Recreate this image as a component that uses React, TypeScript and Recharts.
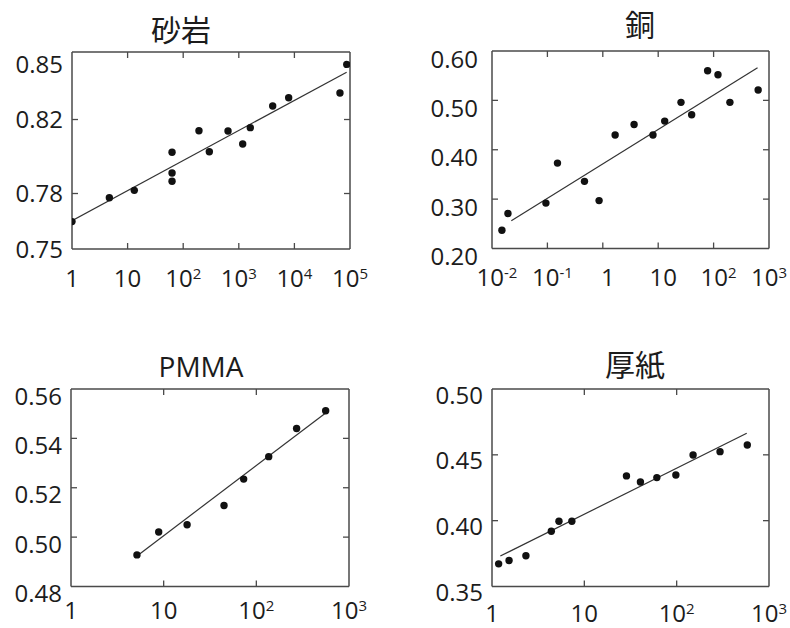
import React from "react";
import { Scatter, ScatterChart, XAxis, YAxis } from "recharts";

const FRAME = "#4a4a4a";
const INK = "#1c1c1c";
const DOT = "#111111";
const FONT = "'Open Sans', 'DejaVu Sans', sans-serif";
const CJK = "'Noto Sans CJK JP', 'Noto Sans', sans-serif";
const TICK_SIZE = 24;

// 砂岩
const sandstoneX = [1, 4.7, 13.2, 63, 63, 63, 192, 295, 640, 1175, 1610, 4070, 7890, 66000, 87500];
const sandstoneY = [0.7648, 0.7777, 0.7817, 0.8023, 0.7911, 0.7866, 0.8139, 0.8026, 0.8138, 0.8068, 0.8156, 0.8273, 0.8318, 0.8343, 0.8498];
const sandstoneFitX = [1, 87000];
const sandstoneFitY = [0.7653, 0.8456];
const sandstoneXTicks = [1, 10, 100, 1000, 10000, 100000];
const sandstoneXLabels = ["1", "10", "10^2", "10^3", "10^4", "10^5"];
const sandstoneYTicks = [0.75, 0.78, 0.82, 0.85];
const sandstoneYLabels = ["0.75", "0.78", "0.82", "0.85"];

// 銅
const copperX = [0.0151, 0.0194, 0.094, 0.152, 0.467, 0.857, 1.67, 3.67, 8.05, 13.1, 25.8, 40.2, 78, 120, 197, 637];
const copperY = [0.237, 0.271, 0.292, 0.373, 0.336, 0.297, 0.43, 0.451, 0.43, 0.458, 0.496, 0.471, 0.56, 0.552, 0.496, 0.521];
const copperFitX = [0.0223, 621];
const copperFitY = [0.256, 0.566];
const copperXTicks = [0.01, 0.1, 1, 10, 100, 1000];
const copperXLabels = ["10^-2", "10^-1", "1", "10", "10^2", "10^3"];
const copperYTicks = [0.2, 0.3, 0.4, 0.5, 0.6];
const copperYLabels = ["0.20", "0.30", "0.40", "0.50", "0.60"];

// PMMA
const pmmaX = [5.15, 8.84, 17.9, 44.8, 73, 136, 272, 560];
const pmmaY = [0.4928, 0.5021, 0.505, 0.5128, 0.5235, 0.5326, 0.544, 0.5512];
const pmmaFitX = [5.55, 560];
const pmmaFitY = [0.4933, 0.5503];
const pmmaXTicks = [1, 10, 100, 1000];
const pmmaXLabels = ["1", "10", "10^2", "10^3"];
const pmmaYTicks = [0.48, 0.5, 0.52, 0.54, 0.56];
const pmmaYLabels = ["0.48", "0.50", "0.52", "0.54", "0.56"];

// 厚紙
const cardX = [1.18, 1.53, 2.33, 4.39, 5.31, 7.33, 28.6, 40.5, 61, 98, 150.6, 295, 582];
const cardY = [0.3672, 0.3697, 0.3733, 0.392, 0.3996, 0.3996, 0.434, 0.4294, 0.4327, 0.4347, 0.4499, 0.4524, 0.4575];
const cardFitX = [1.23, 574];
const cardFitY = [0.3731, 0.4664];
const cardXTicks = [1, 10, 100, 1000];
const cardXLabels = ["1", "10", "10^2", "10^3"];
const cardYTicks = [0.35, 0.4, 0.45, 0.5];
const cardYLabels = ["0.35", "0.40", "0.45", "0.50"];

const toPoints = (xs: number[], ys: number[]) => xs.map((x, i) => ({ x, y: ys[i] }));

// "10^2" -> 10 with a raised exponent
function Power({ label }: { label: string }) {
  const [base, exp] = label.split("^");
  return (
    <>
      {base}
      {exp && (
        <tspan fontSize={15} dy={-8}>
          {exp}
        </tspan>
      )}
    </>
  );
}

const isEdge = (ticks: number[], v: number) => v === ticks[0] || v === ticks[ticks.length - 1];

type Box = { l: number; t: number; r: number; b: number };

type PanelProps = {
  title: string;
  titleFont: string;
  titleX: number;
  titleY: number;
  left: number;
  top: number;
  box: Box;
  xDomain: [number, number];
  yDomain: [number, number];
  xTicks: number[];
  xLabels: string[];
  yTicks: number[];
  yLabels: string[];
  points: { x: number; y: number }[];
  fit: { x: number; y: number }[];
  xLabelOffset: number;
  xLabelDx: number;
  yLabelDy: number;
  yLabelGap: number;
};

const W = 395;
const H = 314;

function Panel(p: PanelProps) {
  const leftW = p.box.l - p.left;
  const rightW = p.left + W - p.box.r;
  const topH = p.box.t - p.top;
  const bottomH = p.top + H - p.box.b;

  const bottomTick = (props: any) => {
    const { x, y, payload } = props;
    const i = p.xTicks.indexOf(payload.value);
    // the last label sits on the right edge of the page, keep it unshifted
    const dx = i === p.xTicks.length - 1 ? 0 : p.xLabelDx;
    return (
      <g>
        {!isEdge(p.xTicks, payload.value) && <line x1={x} x2={x} y1={y} y2={y - 6} stroke={FRAME} strokeWidth={1.3} />}
        <text
          x={x + dx}
          y={y + p.xLabelOffset}
          dy="0.36em"
          textAnchor="middle"
          fill={INK}
          fontSize={TICK_SIZE}
          fontFamily={FONT}
        >
          <Power label={p.xLabels[i] ?? ""} />
        </text>
      </g>
    );
  };

  const topTick = (props: any) => {
    const { x, y, payload } = props;
    if (isEdge(p.xTicks, payload.value)) return <g />;
    return <line x1={x} x2={x} y1={y} y2={y + 6} stroke={FRAME} strokeWidth={1.3} />;
  };

  const leftTick = (props: any) => {
    const { x, y, payload } = props;
    const i = p.yTicks.indexOf(payload.value);
    return (
      <g>
        {!isEdge(p.yTicks, payload.value) && <line x1={x} x2={x + 6} y1={y} y2={y} stroke={FRAME} strokeWidth={1.3} />}
        <text
          x={x - p.yLabelGap}
          y={y + p.yLabelDy}
          dy="0.36em"
          textAnchor="end"
          fill={INK}
          fontSize={TICK_SIZE}
          fontFamily={FONT}
        >
          {p.yLabels[i] ?? ""}
        </text>
      </g>
    );
  };

  const rightTick = (props: any) => {
    const { x, y, payload } = props;
    if (isEdge(p.yTicks, payload.value)) return <g />;
    return <line x1={x} x2={x - 6} y1={y} y2={y} stroke={FRAME} strokeWidth={1.3} />;
  };

  const axisLine = { stroke: FRAME, strokeWidth: 1.5 };

  return (
    <>
      <div
        style={{
          position: "absolute",
          left: p.titleX - 100,
          top: p.titleY - 20,
          width: 200,
          height: 40,
          lineHeight: "40px",
          textAlign: "center",
          fontFamily: p.titleFont,
          fontSize: p.titleFont === CJK ? 30 : 28,
          color: INK,
          whiteSpace: "nowrap",
        }}
      >
        {p.title}
      </div>
      <div style={{ position: "absolute", left: p.left, top: p.top, width: W, height: H }}>
        <ScatterChart width={W} height={H} margin={{ top: 0, right: 0, bottom: 0, left: 0 }}>
          <XAxis
            xAxisId="bottom"
            dataKey="x"
            type="number"
            scale="log"
            domain={p.xDomain}
            allowDataOverflow
            ticks={p.xTicks}
            interval={0}
            height={bottomH}
            orientation="bottom"
            tickLine={false}
            tickSize={0}
            tickMargin={0}
            axisLine={axisLine}
            tick={bottomTick}
          />
          <XAxis
            xAxisId="top"
            dataKey="x"
            type="number"
            scale="log"
            domain={p.xDomain}
            allowDataOverflow
            ticks={p.xTicks}
            interval={0}
            height={topH}
            orientation="top"
            tickLine={false}
            tickSize={0}
            tickMargin={0}
            axisLine={axisLine}
            tick={topTick}
          />
          <YAxis
            yAxisId="left"
            dataKey="y"
            type="number"
            domain={p.yDomain}
            allowDataOverflow
            ticks={p.yTicks}
            interval={0}
            width={leftW}
            orientation="left"
            tickLine={false}
            tickSize={0}
            tickMargin={0}
            axisLine={axisLine}
            tick={leftTick}
          />
          <YAxis
            yAxisId="right"
            dataKey="y"
            type="number"
            domain={p.yDomain}
            allowDataOverflow
            ticks={p.yTicks}
            interval={0}
            width={rightW}
            orientation="right"
            tickLine={false}
            tickSize={0}
            tickMargin={0}
            axisLine={axisLine}
            tick={rightTick}
          />
          <Scatter
            xAxisId="bottom"
            yAxisId="left"
            data={p.fit}
            line={{ stroke: "#333333", strokeWidth: 1.2 }}
            lineType="joint"
            shape={() => <g />}
            isAnimationActive={false}
          />
          <Scatter
            xAxisId="bottom"
            yAxisId="left"
            data={p.points}
            shape={(s: any) => <circle cx={s.cx} cy={s.cy} r={3.7} fill={DOT} />}
            isAnimationActive={false}
          />
        </ScatterChart>
      </div>
    </>
  );
}

export default function App() {
  return (
    <div style={{ position: "absolute", left: 0, top: 0, width: 790, height: 628, background: "#ffffff", overflow: "hidden" }}>
      <Panel
        title="砂岩"
        titleFont={CJK}
        titleX={181}
        titleY={28}
        left={0}
        top={0}
        box={{ l: 72, t: 52, r: 350, b: 249 }}
        xDomain={[1, 100000]}
        yDomain={[0.75, 0.8565]}
        xTicks={sandstoneXTicks}
        xLabels={sandstoneXLabels}
        yTicks={sandstoneYTicks}
        yLabels={sandstoneYLabels}
        points={toPoints(sandstoneX, sandstoneY)}
        fit={toPoints(sandstoneFitX, sandstoneFitY)}
        xLabelOffset={29}
        xLabelDx={0}
        yLabelDy={0}
        yLabelGap={9}
      />
      <Panel
        title="銅"
        titleFont={CJK}
        titleX={640}
        titleY={23}
        left={395}
        top={0}
        box={{ l: 492, t: 51, r: 769, b: 248.5 }}
        xDomain={[0.01, 1000]}
        yDomain={[0.2, 0.6]}
        xTicks={copperXTicks}
        xLabels={copperXLabels}
        yTicks={copperYTicks}
        yLabels={copperYLabels}
        points={toPoints(copperX, copperY)}
        fit={toPoints(copperFitX, copperFitY)}
        xLabelOffset={29}
        xLabelDx={5}
        yLabelDy={8}
        yLabelGap={14}
      />
      <Panel
        title="PMMA"
        titleFont={FONT}
        titleX={201}
        titleY={366}
        left={0}
        top={314}
        box={{ l: 71, t: 389, r: 349, b: 586.5 }}
        xDomain={[1, 1000]}
        yDomain={[0.48, 0.56]}
        xTicks={pmmaXTicks}
        xLabels={pmmaXLabels}
        yTicks={pmmaYTicks}
        yLabels={pmmaYLabels}
        points={toPoints(pmmaX, pmmaY)}
        fit={toPoints(pmmaFitX, pmmaFitY)}
        xLabelOffset={24}
        xLabelDx={0}
        yLabelDy={7}
        yLabelGap={9}
      />
      <Panel
        title="厚紙"
        titleFont={CJK}
        titleX={635}
        titleY={363}
        left={395}
        top={314}
        box={{ l: 492, t: 389, r: 769, b: 586.5 }}
        xDomain={[1, 1000]}
        yDomain={[0.35, 0.5]}
        xTicks={cardXTicks}
        xLabels={cardXLabels}
        yTicks={cardYTicks}
        yLabels={cardYLabels}
        points={toPoints(cardX, cardY)}
        fit={toPoints(cardFitX, cardFitY)}
        xLabelOffset={27}
        xLabelDx={0}
        yLabelDy={6}
        yLabelGap={9}
      />
    </div>
  );
}
